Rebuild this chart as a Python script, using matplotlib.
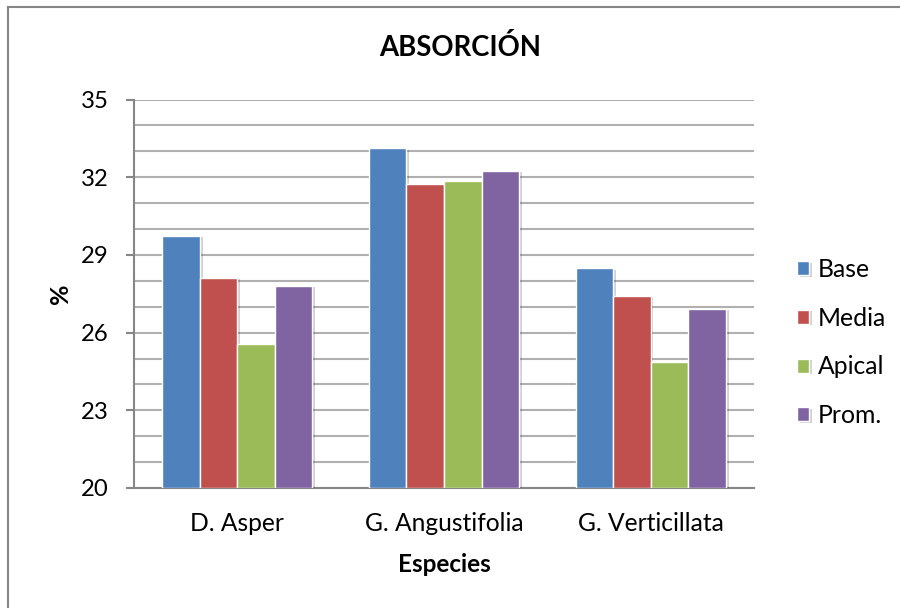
import matplotlib
matplotlib.use("Agg")
import matplotlib.pyplot as plt
import matplotlib.patheffects as pe
from matplotlib.lines import Line2D
import numpy as np

categories = ["D. Asper", "G. Angustifolia", "G. Verticillata"]
series_names = ["Base", "Media", "Apical", "Prom."]
base = [29.73, 33.12, 28.48]
media = [28.11, 31.75, 27.43]
apical = [25.57, 31.84, 24.87]
prom = [27.80, 32.24, 26.93]
colors = ["#4F81BD", "#C0504D", "#9BBB59", "#8064A2"]
y_ticks = [20, 23, 26, 29, 32, 35]

plt.rcParams['font.family'] = ['Lato', 'DejaVu Sans']

fig = plt.figure(figsize=(9, 6.08), dpi=100)
ax = fig.add_axes([134/900, 1-488/608, (754-134)/900, (488-99.5)/608])

values = [base, media, apical, prom]
x = np.arange(len(categories))
w = 1/5.5
for j, (vals, name, c) in enumerate(zip(values, series_names, colors)):
    off = (j - 1.5) * w
    bars = ax.bar(x + off, np.array(vals) - 20, bottom=20, width=w, color=c,
                  edgecolor="white", linewidth=1.0, label=name, zorder=3)
    for b in bars:
        b.set_path_effects([pe.SimplePatchShadow(offset=(2, -1), shadow_rgbFace="#000000", alpha=0.18),
                            pe.Normal()])

ax.set_xlim(-0.5, len(categories) - 0.5)
ax.set_ylim(20, 35)
ax.set_yticks(y_ticks)
ax.set_yticks(np.arange(20, 36, 1), minor=True)
ax.set_yticklabels([str(t) for t in y_ticks], fontsize=17.2)
ax.yaxis.grid(True, which="both", color="#b0b0b0", linewidth=1.5, zorder=0)
ax.set_axisbelow(True)
ax.tick_params(axis="y", which="major", length=6, width=1.5, color="#868686", pad=12.5)
ax.tick_params(axis="y", which="minor", length=0)
ax.set_xticks(x)
ax.set_xticklabels(categories, fontsize=17.7)
ax.tick_params(axis="x", length=0, pad=17)
for s in ["top", "right"]:
    ax.spines[s].set_visible(False)
for s in ["left", "bottom"]:
    ax.spines[s].set_color("#868686")
    ax.spines[s].set_linewidth(1.5)

ax.set_xlabel("Especies", fontsize=17.5, fontweight="bold", labelpad=13)
ax.set_ylabel("%", fontsize=18, fontweight="bold", labelpad=6)
fig.text(460/900, 1-48/608, "ABSORCIÓN", fontsize=19.8, fontweight="bold",
         ha="center", va="center")

leg = ax.legend(loc="center left", bbox_to_anchor=(797/900, 1-342.5/608),
                bbox_transform=fig.transFigure, frameon=False, fontsize=17.8,
                handlelength=0.5, handleheight=0.5, handletextpad=0.35,
                labelspacing=1.04, borderaxespad=0, borderpad=0)

# chart border (left and top visible)
fig.add_artist(Line2D([8/900, 8/900], [0, 1-7/608], transform=fig.transFigure,
                      color="#868686", linewidth=1.5))
fig.add_artist(Line2D([8/900, 1], [1-7/608, 1-7/608], transform=fig.transFigure,
                      color="#868686", linewidth=1.5))

fig.savefig("out.png", dpi=100)
